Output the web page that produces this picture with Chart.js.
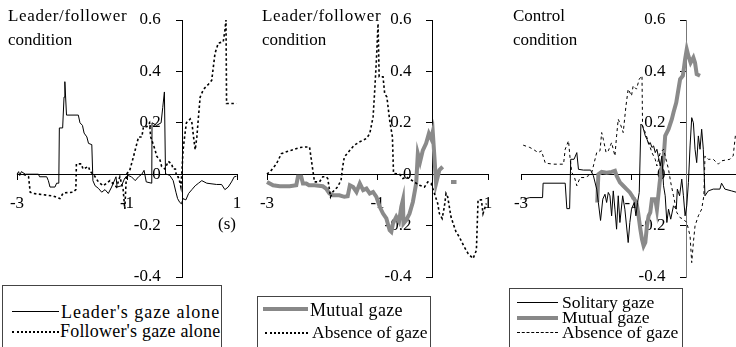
<!DOCTYPE html>
<html lang="en">
<head>
<meta charset="UTF-8">
<title>Gaze types around the leader's movement</title>
<script src="https://cdn.jsdelivr.net/npm/chart.js"></script>
<style>
  body { margin: 0; width: 736px; height: 347px; overflow: hidden; position: relative; background: #fff;
         font-family: "Liberation Serif", "DejaVu Serif", serif; color: #000; }
  canvas { position: absolute; top: 0; }
  .title { position: absolute; font-size: 17px; line-height: 24px; white-space: nowrap; }
  .legend { position: absolute; box-sizing: border-box; height: 90px; border: 1px solid #444; background: #fff; }
  .item { position: absolute; font-size: 18px; line-height: 18px; white-space: nowrap; }
  .swatch { position: absolute; height: 0; }
</style>
</head>
<body>
<!-- each canvas is wider than its plot: 24px on the left and 20px on the right are kept for the end labels -->
<canvas id="panelA" width="264" height="347" style="left:-7px"></canvas>
<canvas id="panelB" width="265" height="347" style="left:243px"></canvas>
<canvas id="panelC" width="265" height="347" style="left:497px"></canvas>

<div class="title" style="left:8px;top:4px"><span style="letter-spacing:0.65px">Leader/follower</span><br>condition</div>
<div class="title" style="left:262px;top:4px"><span style="letter-spacing:0.65px">Leader/follower</span><br>condition</div>
<div class="title" style="left:513px;top:4px">Control<br>condition</div>
<div class="title" style="left:218px;top:212px">(s)</div>

<div class="legend" style="left:2px;top:285px;width:220px"></div>
<div class="swatch" style="left:12px;top:311px;width:47px;border-top:1px solid #000"></div>
<div class="item" style="left:61px;top:303px;letter-spacing:0.95px">Leader's gaze alone</div>
<div class="swatch" style="left:12px;top:331px;width:47px;border-top:2px dotted #000"></div>
<div class="item" style="left:60px;top:322px;letter-spacing:0.2px">Follower's gaze alone</div>

<div class="legend" style="left:257px;top:296px;width:174px"></div>
<div class="swatch" style="left:263px;top:307px;width:45px;border-top:4px solid #888"></div>
<div class="item" style="left:310px;top:301px;letter-spacing:0.3px">Mutual gaze</div>
<div class="swatch" style="left:265px;top:332px;width:43px;border-top:2px dotted #000"></div>
<div class="item" style="left:312px;top:323px;font-size:17.5px">Absence of gaze</div>

<div class="legend" style="left:509px;top:288px;width:174px"></div>
<div class="swatch" style="left:517px;top:302px;width:41px;border-top:1px solid #000"></div>
<div class="item" style="left:562px;top:293px;font-size:17.6px">Solitary gaze</div>
<div class="swatch" style="left:517px;top:316px;width:41px;border-top:4px solid #888"></div>
<div class="item" style="left:562px;top:308px;font-size:17.6px">Mutual gaze</div>
<div class="swatch" style="left:517px;top:332px;width:41px;border-top:1px dashed #000"></div>
<div class="item" style="left:562px;top:323px;font-size:17.6px">Absence of gaze</div>

<script>
// axis ticks shared by the three panels
const xTicks = [-3, -1, 1];
const yTicks = [-0.4, -0.2, 0, 0.2, 0.4, 0.6];

// leader/follower condition: leader's gaze alone
const leaderT = [-3, -2.97, -2.95, -2.92, -2.85, -2.61, -2.59, -2.46, -2.43, -2.40, -2.31, -2.28, -2.24, -2.23, -2.17, -2.145, -2.13, -2.10, -1.885, -1.855, -1.81, -1.78, -1.73, -1.70, -1.64, -1.62, -1.58, -1.52, -1.46, -1.40, -1.34, -1.28, -1.20, -1.18, -1.10, -1.04, -0.98, -0.92, -0.85, -0.79, -0.73, -0.69, -0.65, -0.55, -0.545, -0.46, -0.38, -0.35, -0.32, -0.30, -0.28, -0.22, -0.16, -0.11, -0.08, -0.04, -0.01, 0.02, 0.07, 0.12, 0.18, 0.24, 0.30, 0.36, 0.45, 0.63, 0.72, 0.78, 0.84, 0.90, 0.95, 0.99];
const leaderV = [0.00, 0.01, -0.005, 0.01, 0.00, 0.00, -0.01, -0.01, -0.025, -0.05, -0.05, -0.035, -0.035, 0.18, 0.18, 0.30, 0.36, 0.23, 0.23, 0.20, 0.19, 0.16, 0.145, 0.12, 0.115, -0.025, -0.045, -0.055, -0.07, -0.06, -0.075, -0.05, -0.01, -0.05, -0.045, -0.015, -0.005, -0.01, -0.025, -0.01, 0.0, 0.015, -0.03, -0.035, 0.20, 0.19, 0.20, 0.26, 0.32, 0.0, 0.0, -0.005, -0.025, -0.07, -0.095, -0.11, -0.115, -0.095, -0.10, -0.075, -0.06, -0.045, -0.035, -0.025, -0.035, -0.04, -0.04, -0.06, -0.05, -0.03, -0.01, -0.008];

// leader/follower condition: follower's gaze alone
const followerT = [-2.88, -2.79, -2.76, -2.70, -2.52, -2.34, -2.22, -2.16, -1.98, -1.93, -1.92, -1.83, -1.80, -1.70, -1.67, -1.61, -1.52, -1.43, -1.31, -1.19, -1.13, -1.07, -1.04, -1.01, -0.95, -0.88, -0.82, -0.79, -0.73, -0.70, -0.64, -0.59, -0.57, -0.53, -0.49, -0.46, -0.40, -0.37, -0.31, -0.25, -0.19, -0.16, -0.12, -0.10, -0.07, -0.04, -0.02, 0.0, 0.02, 0.05, 0.08, 0.15, 0.18, 0.21, 0.24, 0.27, 0.30, 0.33, 0.39, 0.48, 0.54, 0.60, 0.66, 0.75, 0.78, 0.80, 0.81, 0.99];
const followerV = [0, -0.01, -0.07, -0.075, -0.08, -0.085, -0.095, -0.073, -0.07, -0.06, 0.04, 0.04, 0.02, 0.03, 0.01, 0.0, -0.03, -0.045, -0.025, -0.05, -0.01, -0.06, -0.135, 0, 0.015, 0.07, 0.12, 0.145, 0.145, 0.185, 0.185, 0.2, 0.145, 0.12, 0.095, 0.07, 0.055, 0.03, 0.02, 0.05, 0.04, 0.02, 0.02, -0.01, -0.01, -0.03, -0.05, 0.015, 0.095, 0.15, 0.2, 0.215, 0.2, 0.145, 0.095, 0.145, 0.225, 0.30, 0.33, 0.35, 0.365, 0.47, 0.51, 0.515, 0.56, 0.60, 0.275, 0.275];

// leader/follower condition: mutual gaze (null = no data)
const mutualT = [-3.0, -2.89, -2.77, -2.59, -2.47, -2.44, -2.38, -2.35, -2.29, -2.24, -2.14, -1.99, -1.93, -1.87, -1.81, -1.69, -1.60, -1.54, -1.50, -1.44, -1.38, -1.32, -1.26, -1.20, -1.14, -1.08, -1.02, -0.96, -0.90, -0.84, -0.78, -0.75, -0.72, -0.69, -0.66, -0.61, -0.57, -0.54, -0.53, -0.48, -0.42, -0.36, -0.30, -0.27, -0.23, -0.18, -0.12, -0.07, -0.03, 0.0, 0.03, 0.06, 0.09, 0.12, 0.18, 0.25, 0.33, 0.43];
const mutualV = [-0.03, -0.043, -0.047, -0.047, -0.043, -0.01, -0.01, -0.036, -0.036, -0.043, -0.043, -0.047, -0.056, -0.075, -0.082, -0.082, -0.088, -0.086, -0.043, -0.05, -0.069, -0.036, -0.062, -0.056, -0.075, -0.069, -0.088, -0.127, -0.153, -0.172, -0.218, -0.224, -0.192, -0.179, -0.166, -0.185, -0.127, -0.10, -0.192, -0.179, -0.153, -0.108, -0.036, 0.08, 0.048, 0.093, 0.12, 0.158, 0.139, 0.165, 0.067, -0.036, -0.01, 0.016, 0.029, null, -0.03, -0.03];

// leader/follower condition: absence of gaze
const absenceT = [-3.0, -2.92, -2.83, -2.74, -2.65, -2.56, -2.41, -2.29, -2.23, -2.18, -2.14, -2.05, -1.99, -1.93, -1.90, -1.85, -1.81, -1.72, -1.66, -1.63, -1.60, -1.50, -1.42, -1.32, -1.20, -1.14, -1.08, -1.05, -1.02, -0.99, -0.97, -0.90, -0.87, -0.83, -0.78, -0.73, -0.71, -0.60, -0.54, -0.48, -0.24, -0.15, -0.09, -0.03, 0.03, 0.09, 0.12, 0.17, 0.21, 0.24, 0.27, 0.33, 0.42, 0.48, 0.57, 0.64, 0.73, 0.79, 0.82, 0.88, 0.91, 0.97];
const absenceV = [0.0, 0.016, 0.04, 0.08, 0.087, 0.093, 0.104, 0.106, 0.106, 0.029, -0.03, -0.03, -0.01, -0.01, -0.017, -0.088, -0.069, -0.049, -0.023, 0.029, 0.067, 0.093, 0.113, 0.126, 0.139, 0.158, 0.223, 0.327, 0.444, 0.586, 0.379, 0.379, 0.314, 0.30, 0.21, 0.145, 0.003, 0.0, -0.017, -0.01, -0.043, -0.05, -0.03, -0.036, -0.075, -0.114, -0.153, -0.172, -0.127, -0.075, -0.088, -0.166, -0.224, -0.244, -0.283, -0.309, -0.328, -0.296, -0.10, -0.10, -0.153, -0.114];

// control condition: solitary gaze
const soloT = [-2.95, -2.84, -2.61, -2.60, -2.20, -2.17, -2.12, -2.10, -2.04, -1.99, -1.96, -1.87, -1.74, -1.69, -1.63, -1.60, -1.56, -1.52, -1.48, -1.45, -1.42, -1.39, -1.36, -1.33, -1.30, -1.27, -1.24, -1.21, -1.16, -1.12, -1.06, -1.03, -1.00, -0.95, -0.92, -0.89, -0.86, -0.83, -0.80, -0.75, -0.72, -0.69, -0.66, -0.63, -0.60, -0.57, -0.54, -0.51, -0.48, -0.45, -0.42, -0.39, -0.36, -0.33, -0.29, -0.24, -0.19, -0.17, -0.13, -0.09, -0.06, -0.03, 0.0, 0.03, 0.06, 0.09, 0.12, 0.15, 0.18, 0.21, 0.24, 0.27, 0.30, 0.33, 0.39, 0.48, 0.60, 0.63, 0.69, 0.81, 0.91];
const soloV = [-0.097, -0.091, -0.091, -0.035, -0.035, -0.134, -0.134, 0.058, 0.058, 0.084, 0.019, 0.016, 0.016, -0.006, -0.058, -0.11, -0.18, -0.097, -0.078, -0.11, -0.071, -0.084, -0.162, -0.065, -0.136, -0.214, -0.084, -0.188, -0.084, -0.136, -0.266, -0.188, -0.136, -0.11, -0.162, -0.11, -0.071, 0.195, 0.188, 0.149, 0.136, 0.117, 0.123, 0.104, 0.11, 0.084, 0.097, 0.065, 0.032, 0.071, -0.045, -0.084, -0.188, -0.136, -0.175, -0.123, -0.136, -0.058, -0.084, -0.019, -0.084, -0.162, -0.123, -0.032, 0.11, 0.22, 0.20, 0.097, 0.045, 0.149, 0.097, 0.175, 0.097, -0.084, -0.065, -0.058, -0.058, -0.035, -0.058, -0.065, -0.071];

// control condition: mutual gaze
const ctrlMutualT = [-1.62, -1.60, -1.54, -1.45, -1.36, -1.30, -1.27, -1.21, -1.15, -1.09, -1.03, -0.97, -0.91, -0.88, -0.84, -0.81, -0.78, -0.75, -0.72, -0.69, -0.66, -0.63, -0.57, -0.54, -0.49, -0.45, -0.42, -0.39, -0.33, -0.27, -0.24, -0.19, -0.15, -0.12, -0.07, -0.03, 0.0, 0.03, 0.07, 0.12, 0.15, 0.18, 0.24];
const ctrlMutualV = [-0.11, 0.0, 0.009, 0.006, 0.009, 0.013, -0.006, -0.032, -0.045, -0.058, -0.071, -0.091, -0.11, -0.149, -0.214, -0.253, -0.279, -0.266, -0.201, -0.162, -0.149, -0.097, -0.097, -0.136, -0.032, 0.032, 0.058, 0.149, 0.175, 0.214, 0.24, 0.279, 0.331, 0.37, 0.383, 0.447, 0.486, 0.46, 0.434, 0.454, 0.434, 0.389, 0.383];

// control condition: absence of gaze
const ctrlAbsenceT = [-2.96, -2.84, -2.78, -2.69, -2.63, -2.56, -2.41, -2.23, -2.20, -2.14, -2.11, -2.08, -2.04, -1.99, -1.93, -1.84, -1.78, -1.72, -1.69, -1.63, -1.57, -1.54, -1.51, -1.46, -1.42, -1.36, -1.30, -1.27, -1.24, -1.19, -1.15, -1.10, -1.06, -1.00, -0.97, -0.91, -0.86, -0.81, -0.80, -0.75, -0.69, -0.63, -0.57, -0.54, -0.48, -0.42, -0.39, -0.33, -0.29, -0.24, -0.18, -0.12, -0.06, 0.0, 0.06, 0.09, 0.12, 0.15, 0.21, 0.27, 0.31, 0.33, 0.39, 0.48, 0.57, 0.63, 0.78, 0.84, 0.88, 0.91];
const ctrlAbsenceV = [0.113, 0.104, 0.097, 0.084, 0.091, 0.043, 0.039, 0.039, 0.097, 0.13, 0.058, 0.006, -0.006, -0.045, -0.013, -0.013, -0.006, 0.006, 0.032, 0.084, 0.091, 0.162, 0.136, 0.084, 0.091, 0.123, 0.071, 0.149, 0.214, 0.188, 0.162, 0.266, 0.331, 0.305, 0.344, 0.331, 0.37, 0.383, 0.188, 0.162, 0.123, 0.084, 0.058, 0.032, 0.084, 0.097, 0.071, 0.019, -0.032, -0.084, -0.149, -0.169, -0.175, -0.188, -0.24, -0.344, -0.266, -0.201, -0.162, -0.136, -0.084, 0.071, 0.058, 0.058, 0.039, 0.052, 0.058, 0.071, 0.149, 0.136];

const tickFont = { family: 'Liberation Serif', size: 17 };

const solid = { borderColor: '#000', borderWidth: 1 };
const grey = { borderColor: '#8a8a8a', borderWidth: 4 };
const dots = { borderColor: '#000', borderWidth: 1.6, borderDash: [2.5, 2.5] };
const dashes = { borderColor: '#000', borderWidth: 1, borderDash: [3, 3] };

function series(t, v, style) {
    return Object.assign({
        data: t.map((x, i) => ({ x: x, y: v[i] })),
        pointRadius: 0,
        tension: 0,
        spanGaps: false,
        clip: 6
    }, style);
}

// y labels sit right against an axis placed at x = 0, so pad them with trailing spaces
function yLabel(v) {
    return (v === 0 ? '0' : v.toFixed(1)) + '     ';
}

function makePanel(id, datasets, axisColor) {
    new Chart(document.getElementById(id), {
        type: 'line',
        data: { datasets: datasets },
        options: {
            responsive: false,
            animation: false,
            events: [],
            layout: { padding: { left: 24, right: 20, top: 20, bottom: 70 } },
            plugins: { legend: { display: false }, tooltip: { enabled: false } },
            scales: {
                x: {
                    type: 'linear', min: -3, max: 1, position: { y: 0 },
                    afterBuildTicks: s => { s.ticks = xTicks.map(v => ({ value: v })); },
                    grid: { drawOnChartArea: false, tickLength: 5, color: '#000' },
                    border: { color: '#000', width: 1 },
                    ticks: { font: tickFont, color: '#000', padding: 14, maxRotation: 0, autoSkip: false,
                             callback: v => String(v) }
                },
                y: {
                    type: 'linear', min: -0.4, max: 0.6, position: { x: 0 },
                    afterBuildTicks: s => { s.ticks = yTicks.map(v => ({ value: v })); },
                    grid: { drawOnChartArea: false, tickLength: 6, color: '#000' },
                    border: { color: axisColor, width: 1 },
                    ticks: { font: tickFont, color: '#000', autoSkip: false, callback: yLabel }
                }
            }
        }
    });
}

makePanel('panelA', [
    series(leaderT, leaderV, solid),
    series(followerT, followerV, dots)
], '#000');

makePanel('panelB', [
    series(absenceT, absenceV, dots),
    series(mutualT, mutualV, grey)
], '#000');

makePanel('panelC', [
    series(ctrlAbsenceT, ctrlAbsenceV, dashes),
    series(soloT, soloV, solid),
    series(ctrlMutualT, ctrlMutualV, grey)
], '#777');
</script>
</body>
</html>
